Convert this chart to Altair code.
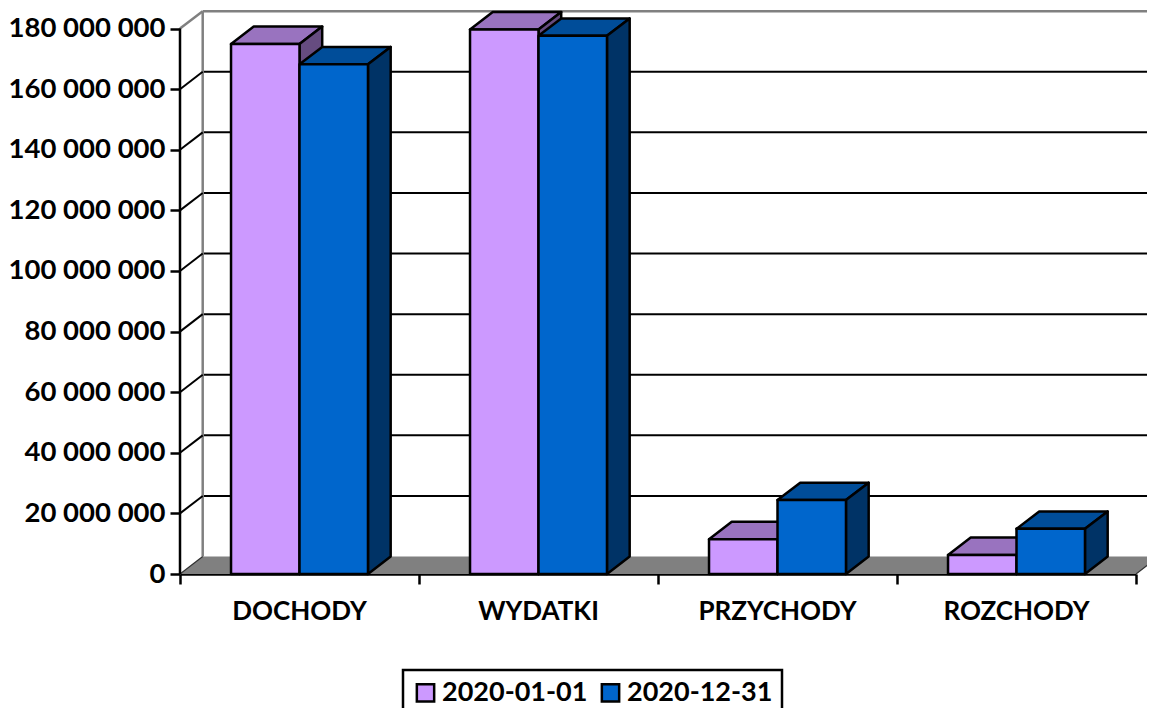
import altair as alt
import pandas as pd

categories = ["DOCHODY", "WYDATKI", "PRZYCHODY", "ROZCHODY"]
series_names = ["2020-01-01", "2020-12-31"]
values_a = [174900000, 179700000, 11500000, 6300000]
values_b = [168200000, 177600000, 24400000, 14900000]
tick_values = [0, 20000000, 40000000, 60000000, 80000000, 100000000,
               120000000, 140000000, 160000000, 180000000]

FONT = "Lato"
LW = 2.5
W, H = 956, 563
Y_MAX = 185.8e6
DX = 0.095      # chart depth, in category units
DV = 5.75e6     # chart depth, in value units
BAR = 0.2865    # bar width, in category units
GAP = (1 - 2 * BAR) / 2
COL_A = {"front": "#CC99FF", "top": "#9973BF", "side": "#664C80"}
COL_B = {"front": "#0066CC", "top": "#004D99", "side": "#003366"}

x_axis = alt.Axis(values=[0, 1, 2, 3, 4], labels=False, title=None, grid=False,
                  domainColor="black", domainWidth=LW, tickColor="black",
                  tickWidth=LW, tickSize=10)
y_axis = alt.Axis(values=tick_values, title=None, grid=False, domain=False,
                  tickColor="black", tickWidth=LW, tickSize=10, labelPadding=5,
                  labelFont=FONT, labelFontSize=27.5, labelFontWeight="bold",
                  labelColor="black",
                  labelExpr="replace(format(datum.value, ','), /,/g, ' ')")
X = lambda f="x": alt.X(f"{f}:Q", scale=alt.Scale(domain=[0, 4], nice=False), axis=x_axis)
Y = lambda f="y": alt.Y(f"{f}:Q", scale=alt.Scale(domain=[0, Y_MAX], nice=False), axis=y_axis)

# --- frame ---------------------------------------------------------------
floor_df = pd.DataFrame({"y": [0, DV], "x": [0, DX], "x2": [4, 4 + DX]})
floor = alt.Chart(floor_df).mark_area(orient="horizontal", color="#808080").encode(
    y=Y(), x=X(), x2=alt.X2("x2"))

grid_df = pd.DataFrame({"y": [v + DV for v in tick_values[1:-1]],
                        "x": DX, "x2": 4 + DX})
grid = alt.Chart(grid_df).mark_rule(color="black", strokeWidth=2).encode(
    y=Y(), x=X(), x2=alt.X2("x2"))

top_df = pd.DataFrame({"y": [tick_values[-1] + DV], "x": [DX], "x2": [4 + DX]})
wall_top = alt.Chart(top_df).mark_rule(color="#808080", strokeWidth=LW).encode(
    y=Y(), x=X(), x2=alt.X2("x2"))

back_df = pd.DataFrame({"x": [DX], "y": [DV], "y2": [tick_values[-1] + DV]})
wall_left = alt.Chart(back_df).mark_rule(color="#808080", strokeWidth=LW).encode(
    x=X(), y=Y(), y2=alt.Y2("y2"))

diag_rows = []
for v in tick_values[1:-1]:
    diag_rows += [{"id": v, "x": 0, "y": v}, {"id": v, "x": DX, "y": v + DV}]
diag = alt.Chart(pd.DataFrame(diag_rows)).mark_line(color="black", strokeWidth=2).encode(
    x=X(), y=Y(), detail="id:N")

top_diag = alt.Chart(pd.DataFrame([
    {"x": 0, "y": tick_values[-1]}, {"x": DX, "y": tick_values[-1] + DV}
])).mark_line(color="#808080", strokeWidth=LW).encode(x=X(), y=Y())

edge_rows = []
for i, x0 in enumerate([0, 4]):
    edge_rows += [{"id": i, "x": x0, "y": 0}, {"id": i, "x": x0 + DX, "y": DV}]
edges = alt.Chart(pd.DataFrame(edge_rows)).mark_line(color="#303030", strokeWidth=1.2).encode(
    x=X(), y=Y(), detail="id:N")

y_line_df = pd.DataFrame({"x": [0], "y": [0], "y2": [tick_values[-1]]})
y_line = alt.Chart(y_line_df).mark_rule(color="black", strokeWidth=LW).encode(
    x=X(), y=Y(), y2=alt.Y2("y2"))

# --- bars -----------------------------------------------------------------
def faces(values, offset, colors):
    top_rows, side_rows = [], []
    for i, v in enumerate(values):
        x0 = i + GAP + offset * BAR
        x1 = x0 + BAR
        top_rows += [{"id": i, "y": v, "x": x0, "x2": x1},
                     {"id": i, "y": v + DV, "x": x0 + DX, "x2": x1 + DX}]
        side_rows += [{"id": i, "x": x1, "y": v, "y2": 0},
                      {"id": i, "x": x1 + DX, "y": v + DV, "y2": DV}]
    top = alt.Chart(pd.DataFrame(top_rows)).mark_area(
        orient="horizontal", color=colors["top"], stroke="black", strokeWidth=LW,
        strokeJoin="round"
    ).encode(y=Y(), x=X(), x2=alt.X2("x2"), detail="id:N")
    side = alt.Chart(pd.DataFrame(side_rows)).mark_area(
        color=colors["side"], stroke="black", strokeWidth=LW, strokeJoin="round"
    ).encode(x=X(), y=Y(), y2=alt.Y2("y2"), detail="id:N")
    return [top, side]

front_rows = []
for s, vals, off in [(series_names[0], values_a, 0), (series_names[1], values_b, 1)]:
    for i, v in enumerate(vals):
        x0 = i + GAP + off * BAR
        front_rows.append({"series": s, "x": x0, "x2": x0 + BAR, "y": v, "y2": 0})
front = alt.Chart(pd.DataFrame(front_rows)).mark_bar(
    stroke="black", strokeWidth=LW, strokeJoin="round"
).encode(
    x=X(), x2=alt.X2("x2"), y=Y(), y2=alt.Y2("y2"),
    color=alt.Color("series:N",
                    scale=alt.Scale(domain=series_names,
                                    range=[COL_A["front"], COL_B["front"]]),
                    legend=alt.Legend(orient="none", legendX=223, legendY=659,
                                      direction="horizontal", title=None,
                                      padding=9, columnPadding=8, symbolType="square",
                                      symbolSize=300, symbolStrokeColor="black",
                                      symbolStrokeWidth=2.5, labelOffset=3,
                                      labelFont=FONT, labelFontSize=27,
                                      labelFontWeight="bold", labelColor="black",
                                      strokeColor="black", fillColor="white")),
)

label_df = pd.DataFrame({"label": categories, "x": [i + 0.5 for i in range(len(categories))]})
labels = alt.Chart(label_df).mark_text(
    font=FONT, fontSize=26, fontWeight="bold", color="black", baseline="middle"
).encode(x=X(), y=alt.value(H + 38), text="label:N")

chart = alt.layer(
    floor, grid, wall_top, wall_left, diag, top_diag, edges, y_line,
    *faces(values_a, 0, COL_A), *faces(values_b, 1, COL_B), front, labels,
).properties(
    width=W, height=H,
    autosize=alt.AutoSizeParams(type="none"),
    padding={"left": 172, "top": 3, "right": 11, "bottom": 134},
).configure_view(stroke=None).configure_legend(strokeWidth=2.5)

chart.save("out.html", embed_options={"renderer": "svg", "actions": False})
